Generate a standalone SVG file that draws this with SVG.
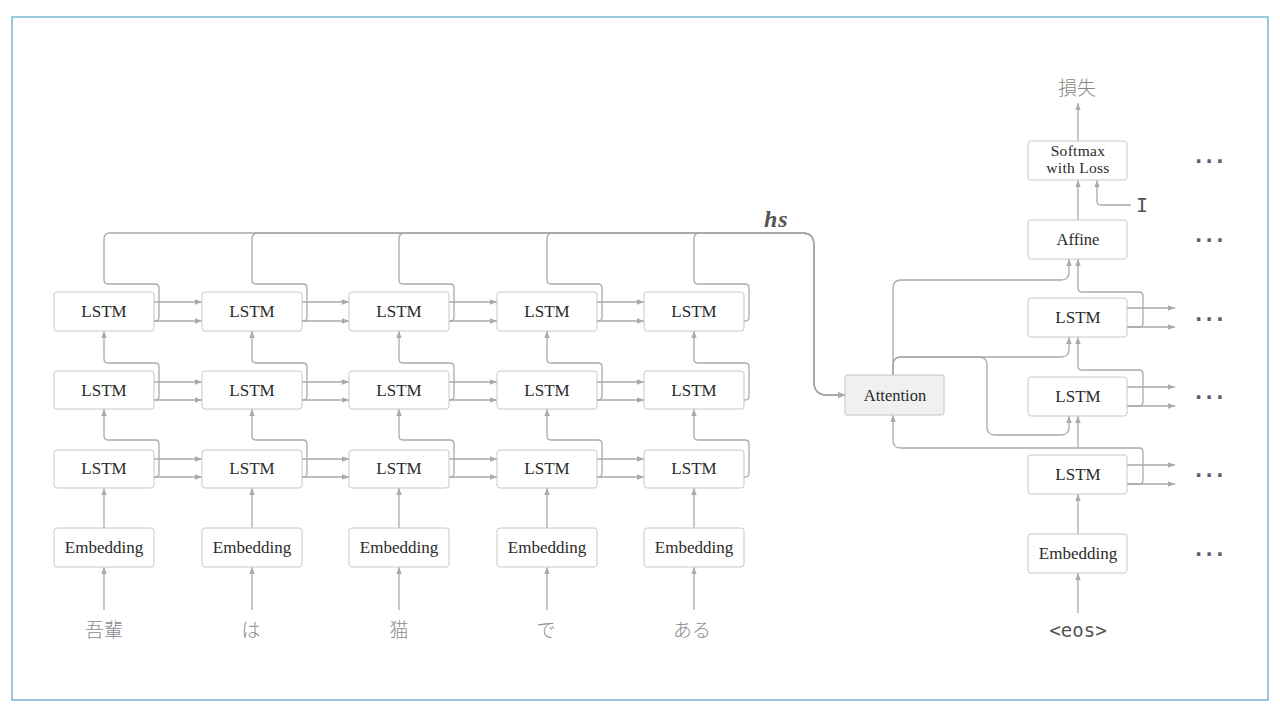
<svg xmlns="http://www.w3.org/2000/svg" width="1280" height="710" viewBox="0 0 1280 710">
<style>
.box{fill:#fff;stroke:#c8c8c8;stroke-width:1}
.att{fill:#f0f0f0;stroke:#c4c4c4;stroke-width:1}
.lbl{font-family:"Liberation Serif","Times New Roman",serif;font-size:17px;fill:#2a2a2a;text-anchor:middle}
.sm{font-size:15.5px;letter-spacing:0.3px}
.c{fill:none;stroke:#aaa;stroke-width:1.3}
.ca{fill:none;stroke:#aaa;stroke-width:1.3;marker-end:url(#ah)}
.word{font-family:"Noto Sans CJK JP","Noto Sans CJK SC",sans-serif;font-size:19px;fill:#868b95;text-anchor:middle;font-weight:300}
.mono{font-family:"DejaVu Sans Mono","Liberation Mono",monospace;fill:#555}
.dots{font-family:"DejaVu Sans",sans-serif;font-weight:bold;font-size:19px;fill:#5a5f6b;letter-spacing:3.4px}
</style>
<defs>
<marker id="ah" markerWidth="8" markerHeight="6" refX="7" refY="3" orient="auto" markerUnits="userSpaceOnUse">
<path d="M0,0.3 L7,3 L0,5.7 z" fill="#aaa"/>
</marker>
</defs>
<rect x="12" y="17" width="1256" height="683" fill="#fff" stroke="#7ab6da" stroke-width="1.5"/>

<g id="connectors">
<!-- encoder words to embedding -->
<path class="ca" d="M104,610 V567"/><path class="ca" d="M252,610 V567"/><path class="ca" d="M399,610 V567"/><path class="ca" d="M547,610 V567"/><path class="ca" d="M694,610 V567"/>
<!-- embedding to bottom LSTM -->
<path class="ca" d="M104,528 V488"/><path class="ca" d="M252,528 V488"/><path class="ca" d="M399,528 V488"/><path class="ca" d="M547,528 V488"/><path class="ca" d="M694,528 V488"/>
<!-- horizontal arrows -->
<path class="ca" d="M154,302 H202"/><path class="ca" d="M154,321 H202"/><path class="ca" d="M302,302 H349"/><path class="ca" d="M302,321 H349"/><path class="ca" d="M449,302 H497"/><path class="ca" d="M449,321 H497"/><path class="ca" d="M597,302 H644"/><path class="ca" d="M597,321 H644"/>
<path class="ca" d="M154,382 H202"/><path class="ca" d="M154,400 H202"/><path class="ca" d="M302,382 H349"/><path class="ca" d="M302,400 H349"/><path class="ca" d="M449,382 H497"/><path class="ca" d="M449,400 H497"/><path class="ca" d="M597,382 H644"/><path class="ca" d="M597,400 H644"/>
<path class="ca" d="M154,459 H202"/><path class="ca" d="M154,477 H202"/><path class="ca" d="M302,459 H349"/><path class="ca" d="M302,477 H349"/><path class="ca" d="M449,459 H497"/><path class="ca" d="M449,477 H497"/><path class="ca" d="M597,459 H644"/><path class="ca" d="M597,477 H644"/>
<!-- bottom row loops to middle -->
<path class="ca" d="M154,477 H155 Q159,477 159,473 V444 Q159,440 155,440 H108 Q104,440 104,436 V409"/>
<path class="ca" d="M302,477 H303 Q307,477 307,473 V444 Q307,440 303,440 H256 Q252,440 252,436 V409"/>
<path class="ca" d="M449,477 H450 Q454,477 454,473 V444 Q454,440 450,440 H403 Q399,440 399,436 V409"/>
<path class="ca" d="M597,477 H598 Q602,477 602,473 V444 Q602,440 598,440 H551 Q547,440 547,436 V409"/>
<path class="ca" d="M744,477 H745 Q749,477 749,473 V444 Q749,440 745,440 H698 Q694,440 694,436 V409"/>
<!-- middle row loops to top -->
<path class="ca" d="M154,400 H155 Q159,400 159,396 V367 Q159,363 155,363 H108 Q104,363 104,359 V331"/>
<path class="ca" d="M302,400 H303 Q307,400 307,396 V367 Q307,363 303,363 H256 Q252,363 252,359 V331"/>
<path class="ca" d="M449,400 H450 Q454,400 454,396 V367 Q454,363 450,363 H403 Q399,363 399,359 V331"/>
<path class="ca" d="M597,400 H598 Q602,400 602,396 V367 Q602,363 598,363 H551 Q547,363 547,359 V331"/>
<path class="ca" d="M744,400 H745 Q749,400 749,396 V367 Q749,363 745,363 H698 Q694,363 694,359 V331"/>
<!-- top row to hs -->
<path class="ca" d="M154,321 H155 Q159,321 159,317 V288 Q159,284 155,284 H108 Q104,284 104,280 V239 Q104,233 110,233 H802 Q814,233 814,245 V382 Q814,395 827,395 H845"/>
<path class="ca" d="M302,321 H303 Q307,321 307,317 V288 Q307,284 303,284 H256 Q252,284 252,280 V239 Q252,233 258,233 H802 Q814,233 814,245 V382 Q814,395 827,395 H845"/>
<path class="ca" d="M449,321 H450 Q454,321 454,317 V288 Q454,284 450,284 H403 Q399,284 399,280 V239 Q399,233 405,233 H802 Q814,233 814,245 V382 Q814,395 827,395 H845"/>
<path class="ca" d="M597,321 H598 Q602,321 602,317 V288 Q602,284 598,284 H551 Q547,284 547,280 V239 Q547,233 553,233 H802 Q814,233 814,245 V382 Q814,395 827,395 H845"/>
<path class="ca" d="M744,321 H745 Q749,321 749,317 V288 Q749,284 745,284 H698 Q694,284 694,280 V239 Q694,233 700,233 H802 Q814,233 814,245 V382 Q814,395 827,395 H845"/>

<!-- decoder -->
<path class="ca" d="M1078,613 V573"/>
<path class="ca" d="M1078,534 V494"/>
<path class="ca" d="M1127,465 H1175"/><path class="ca" d="M1127,484 H1175"/>
<path class="ca" d="M1127,387 H1175"/><path class="ca" d="M1127,406 H1175"/>
<path class="ca" d="M1127,308 H1175"/><path class="ca" d="M1127,327 H1175"/>
<path class="ca" d="M1127,484 H1139 Q1143,484 1143,480 V452 Q1143,448 1139,448 H901 Q893,448 893,440 V415"/>
<path class="ca" d="M1078,448 V416"/>
<path class="ca" d="M1127,406 H1139 Q1143,406 1143,402 V374 Q1143,370 1139,370 H1082 Q1078,370 1078,366 V337"/>
<path class="ca" d="M1127,327 H1139 Q1143,327 1143,323 V296 Q1143,292 1139,292 H1082 Q1078,292 1078,288 V259"/>
<path class="ca" d="M893,375 V288 Q893,280 901,280 H1061 Q1069,280 1069,272 V259"/>
<path class="ca" d="M893,375 V365 Q893,357 901,357 H1061 Q1069,357 1069,349 V337"/>
<path class="ca" d="M893,375 V365 Q893,357 901,357 H979 Q987,357 987,365 V427 Q987,435 995,435 H1061 Q1069,435 1069,427 V416"/>
<path class="ca" d="M1078,220 V180"/>
<path class="ca" d="M1131,205 H1101 Q1097,205 1097,201 V180"/>
<path class="ca" d="M1078,141 V103"/>
</g>

<text x="764" y="227" font-family="Liberation Serif,serif" font-style="italic" font-weight="bold" font-size="24" fill="#555" letter-spacing="1">hs</text>

<!-- encoder nodes -->
<g id="enc1">
<rect class="box" x="54" y="292" width="100" height="39" rx="3"/><text class="lbl" x="104" y="317">LSTM</text>
<rect class="box" x="54" y="371" width="100" height="38" rx="3"/><text class="lbl" x="104" y="396">LSTM</text>
<rect class="box" x="54" y="450" width="100" height="38" rx="3"/><text class="lbl" x="104" y="474">LSTM</text>
<rect class="box" x="54" y="528" width="100" height="39" rx="3"/><text class="lbl" x="104" y="553">Embedding</text>
<text class="word" x="104" y="637">吾輩</text>
</g>
<g id="enc2">
<rect class="box" x="202" y="292" width="100" height="39" rx="3"/><text class="lbl" x="252" y="317">LSTM</text>
<rect class="box" x="202" y="371" width="100" height="38" rx="3"/><text class="lbl" x="252" y="396">LSTM</text>
<rect class="box" x="202" y="450" width="100" height="38" rx="3"/><text class="lbl" x="252" y="474">LSTM</text>
<rect class="box" x="202" y="528" width="100" height="39" rx="3"/><text class="lbl" x="252" y="553">Embedding</text>
<text class="word" x="251" y="637">は</text>
</g>
<g id="enc3">
<rect class="box" x="349" y="292" width="100" height="39" rx="3"/><text class="lbl" x="399" y="317">LSTM</text>
<rect class="box" x="349" y="371" width="100" height="38" rx="3"/><text class="lbl" x="399" y="396">LSTM</text>
<rect class="box" x="349" y="450" width="100" height="38" rx="3"/><text class="lbl" x="399" y="474">LSTM</text>
<rect class="box" x="349" y="528" width="100" height="39" rx="3"/><text class="lbl" x="399" y="553">Embedding</text>
<text class="word" x="399" y="637">猫</text>
</g>
<g id="enc4">
<rect class="box" x="497" y="292" width="100" height="39" rx="3"/><text class="lbl" x="547" y="317">LSTM</text>
<rect class="box" x="497" y="371" width="100" height="38" rx="3"/><text class="lbl" x="547" y="396">LSTM</text>
<rect class="box" x="497" y="450" width="100" height="38" rx="3"/><text class="lbl" x="547" y="474">LSTM</text>
<rect class="box" x="497" y="528" width="100" height="39" rx="3"/><text class="lbl" x="547" y="553">Embedding</text>
<text class="word" x="546" y="637">で</text>
</g>
<g id="enc5">
<rect class="box" x="644" y="292" width="100" height="39" rx="3"/><text class="lbl" x="694" y="317">LSTM</text>
<rect class="box" x="644" y="371" width="100" height="38" rx="3"/><text class="lbl" x="694" y="396">LSTM</text>
<rect class="box" x="644" y="450" width="100" height="38" rx="3"/><text class="lbl" x="694" y="474">LSTM</text>
<rect class="box" x="644" y="528" width="100" height="39" rx="3"/><text class="lbl" x="694" y="553">Embedding</text>
<text class="word" x="692" y="637">ある</text>
</g>

<g id="attention">
<rect class="att" x="845" y="375" width="99" height="40" rx="2"/><text class="lbl" x="895" y="401" style="font-size:16.5px">Attention</text>
</g>

<g id="decoder">
<rect class="box" x="1028" y="141" width="99" height="39" rx="3"/>
<text class="lbl sm" x="1078" y="156">Softmax</text><text class="lbl sm" x="1078" y="173">with Loss</text>
<rect class="box" x="1028" y="220" width="99" height="39" rx="3"/><text class="lbl" x="1078" y="245" style="font-size:16.5px">Affine</text>
<rect class="box" x="1028" y="298" width="99" height="39" rx="3"/><text class="lbl" x="1078" y="323">LSTM</text>
<rect class="box" x="1028" y="377" width="99" height="39" rx="3"/><text class="lbl" x="1078" y="402">LSTM</text>
<rect class="box" x="1028" y="455" width="99" height="39" rx="3"/><text class="lbl" x="1078" y="480">LSTM</text>
<rect class="box" x="1028" y="534" width="99" height="39" rx="3"/><text class="lbl" x="1078" y="559">Embedding</text>
<text class="word" x="1077" y="95" style="fill:#8a8580">損失</text>
<text class="mono" x="1142" y="212" font-size="20" text-anchor="middle">I</text>
<text class="mono" x="1078" y="637" font-size="19" text-anchor="middle">&lt;eos&gt;</text>
</g>

<g id="dots">
<text class="dots" x="1195" y="163">...</text>
<text class="dots" x="1195" y="242">...</text>
<text class="dots" x="1195" y="321">...</text>
<text class="dots" x="1195" y="399">...</text>
<text class="dots" x="1195" y="477">...</text>
<text class="dots" x="1195" y="556">...</text>
</g>
</svg>
